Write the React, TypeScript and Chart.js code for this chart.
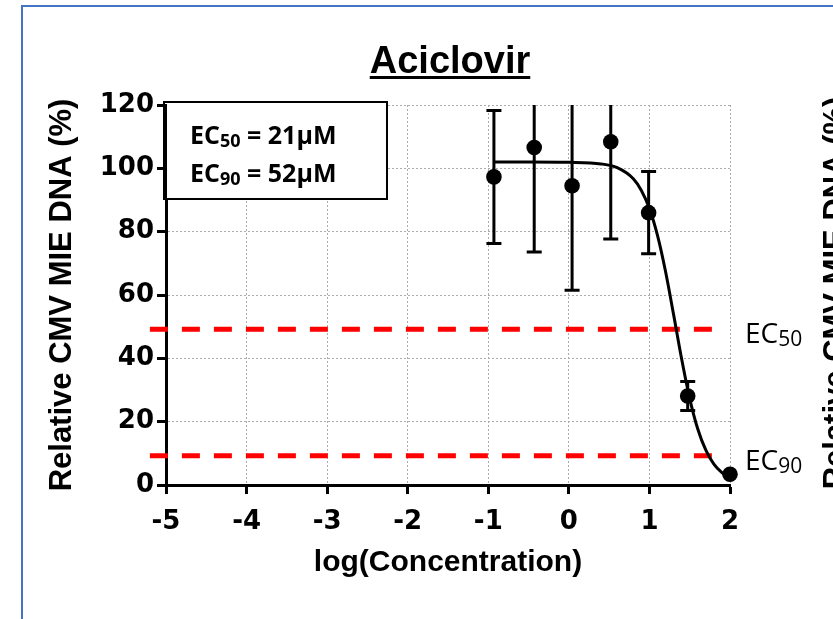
import React, { useEffect, useRef } from 'react';
import { Chart, registerables } from 'chart.js';

Chart.register(...registerables);

// ---- data ----
const chartTitle = 'Aciclovir';
const xAxisTitle = 'log(Concentration)';
const yAxisTitle = 'Relative CMV MIE DNA (%)';

const logConc = [-0.93, -0.43, 0.04, 0.52, 0.99, 1.475, 2.0];
const relDNA = [97.3, 106.6, 94.5, 108.4, 86.0, 28.1, 3.4];
const errDNA = [21, 33, 33, 30.7, 13, 4.6, 0];

const fitX = [-0.93, -0.5, 0, 0.4, 0.6, 0.8, 0.9, 1.0, 1.1, 1.2, 1.3, 1.4, 1.5, 1.6, 1.7, 1.8, 1.9, 2.0];
const fitY = [102, 102, 101.9, 101.4, 100.2, 96.7, 93.0, 87.3, 78.8, 67.4, 53.8, 39.8, 27.3, 17.7, 11.0, 6.6, 3.9, 2.3];

const ecLevels = [49.2, 9.25];
const ecLineX = [-5.2, 1.81];
const ecSubs = ['50', '90'];
const ecValues = ['21µM', '52µM'];

const xMin = -5;
const xMax = 2;
const yMin = 0;
const yMax = 120;
const yStep = 20;

const W = 833;
const H = 619;

const overlayPlugin = {
  id: 'overlay',
  afterDatasetsDraw(chart: any) {
    const { ctx, chartArea, scales } = chart;
    const xs = scales.x;
    const ys = scales.y;
    ctx.save();
    ctx.beginPath();
    ctx.rect(chartArea.left - 20, chartArea.top, chartArea.right - chartArea.left + 40, chartArea.bottom - chartArea.top);
    ctx.clip();
    ctx.strokeStyle = '#000';
    ctx.lineWidth = 3;
    for (let i = 0; i < logConc.length; i++) {
      if (!errDNA[i]) continue;
      const px = xs.getPixelForValue(logConc[i]);
      const yt = ys.getPixelForValue(relDNA[i] + errDNA[i]);
      const yb = ys.getPixelForValue(relDNA[i] - errDNA[i]);
      ctx.beginPath();
      ctx.moveTo(px, yt);
      ctx.lineTo(px, yb);
      ctx.moveTo(px - 7.5, yt);
      ctx.lineTo(px + 7.5, yt);
      ctx.moveTo(px - 7.5, yb);
      ctx.lineTo(px + 7.5, yb);
      ctx.stroke();
    }
    ctx.restore();
  },
  afterDraw(chart: any) {
    const { ctx, scales } = chart;
    const ys = scales.y;
    const xs = scales.x;
    const drawSeg = (x: number, y: number, segs: { t: string; f: string; dy?: number }[]) => {
      let cx = x;
      for (const s of segs) {
        ctx.font = s.f;
        ctx.fillText(s.t, cx, y + (s.dy || 0));
        cx += ctx.measureText(s.t).width;
      }
    };
    ctx.save();
    ctx.fillStyle = '#000';
    ctx.textBaseline = 'alphabetic';

    // title with underline
    ctx.font = 'bold 38px "Liberation Sans", Arial, sans-serif';
    ctx.textAlign = 'center';
    const tw = ctx.measureText(chartTitle).width;
    const tx = 450;
    ctx.fillText(chartTitle, tx, 73);
    ctx.fillRect(tx - tw / 2, 76, tw, 3);

    // legend box
    ctx.textAlign = 'left';
    ctx.fillStyle = '#fff';
    ctx.fillRect(167, 103, 219, 95);
    ctx.strokeStyle = '#000';
    ctx.lineWidth = 2;
    ctx.strokeRect(164, 102, 223, 97);
    ctx.fillStyle = '#000';
    const bf = 'bold 25px "Open Sans", sans-serif';
    const sf = 'bold 18px "Open Sans", sans-serif';
    drawSeg(190, 144, [
      { t: 'EC', f: bf },
      { t: ecSubs[0], f: sf, dy: 3 },
      { t: ' = ' + ecValues[0], f: bf },
    ]);
    drawSeg(190, 182, [
      { t: 'EC', f: bf },
      { t: ecSubs[1], f: sf, dy: 3 },
      { t: ' = ' + ecValues[1], f: bf },
    ]);

    // EC labels at right
    const lf = '28px "Open Sans", sans-serif';
    const lsf = '21px "Open Sans", sans-serif';
    for (let i = 0; i < ecLevels.length; i++) {
      const py = ys.getPixelForValue(ecLevels[i]);
      drawSeg(xs.right + 15, py + 14, [
        { t: 'EC', f: lf },
        { t: ecSubs[i], f: lsf, dy: 3 },
      ]);
    }

    // partially visible axis title of neighbouring panel
    ctx.save();
    ctx.translate(836, 293);
    ctx.rotate(-Math.PI / 2);
    ctx.textAlign = 'center';
    ctx.textBaseline = 'middle';
    ctx.font = 'bold 31px "Liberation Sans", Arial, sans-serif';
    ctx.fillText(yAxisTitle, 0, 0);
    ctx.restore();

    ctx.restore();
  },
};

export default function App() {
  const ref = useRef<HTMLCanvasElement | null>(null);
  useEffect(() => {
    const canvas = ref.current;
    if (!canvas) return;
    const gridColor = (c: any) =>
      c.tick && c.scale && ((c.scale.axis === 'x' && c.tick.value === xMin) || (c.scale.axis === 'y' && c.tick.value === yMin))
        ? 'rgba(0,0,0,0)'
        : '#ababab';
    const tickFont = { family: '"DejaVu Sans", sans-serif', size: 26, weight: 'bold' as const };
    const chart = new Chart(canvas, {
      type: 'scatter',
      data: {
        datasets: [
          {
            label: 'points',
            data: logConc.map((x, i) => ({ x, y: relDNA[i] })),
            backgroundColor: '#000',
            borderColor: '#000',
            borderWidth: 0,
            pointRadius: 7.8,
            showLine: false,
            clip: false as any,
            order: 1,
          },
          {
            label: 'fit',
            data: fitX.map((x, i) => ({ x, y: fitY[i] })),
            borderColor: '#000',
            borderWidth: 3,
            pointRadius: 0,
            showLine: true,
            cubicInterpolationMode: 'monotone',
            clip: false as any,
            order: 2,
          },
          ...ecLevels.map((lv) => ({
            label: 'ec',
            data: ecLineX.map((x) => ({ x, y: lv })),
            borderColor: '#ff0000',
            borderWidth: 5,
            borderDash: [18, 14],
            pointRadius: 0,
            showLine: true,
            clip: false as any,
            order: 3,
          })),
        ] as any,
      },
      options: {
        animation: false,
        responsive: false,
        devicePixelRatio: 1,
        layout: { padding: { left: 0, top: 105, right: 103, bottom: 0 } },
        plugins: { legend: { display: false }, tooltip: { enabled: false }, title: { display: false } },
        scales: {
          x: {
            type: 'linear',
            min: xMin,
            max: xMax,
            afterFit: (s: any) => {
              s.height = H - 485;
            },
            ticks: { stepSize: 1, color: '#000', font: tickFont, padding: 13 },
            grid: { color: gridColor, lineWidth: 1, tickColor: '#000', tickWidth: 3, tickLength: 9 },
            border: { color: '#000', width: 3, dash: [2, 2] },
            title: {
              display: true,
              text: xAxisTitle,
              color: '#000',
              font: { family: '"Liberation Sans", Arial, sans-serif', size: 30, weight: 'bold' },
              padding: { top: 0, bottom: 38 },
            },
          },
          y: {
            type: 'linear',
            min: yMin,
            max: yMax,
            afterFit: (s: any) => {
              s.width = 166;
            },
            ticks: { stepSize: yStep, color: '#000', font: tickFont, padding: 3 },
            grid: { color: gridColor, lineWidth: 1, tickColor: '#000', tickWidth: 3, tickLength: 9 },
            border: { color: '#000', width: 3, dash: [2, 2] },
            title: {
              display: true,
              text: yAxisTitle,
              color: '#000',
              font: { family: '"Liberation Sans", Arial, sans-serif', size: 31, weight: 'bold' },
              padding: { top: 44, bottom: 0 },
            },
          },
        },
      } as any,
      plugins: [overlayPlugin],
    });
    return () => chart.destroy();
  }, []);

  return (
    <div style={{ position: 'fixed', left: 0, top: 0, width: W, height: H, background: '#fff', overflow: 'hidden' }}>
      <div
        style={{
          position: 'absolute',
          left: 21,
          top: 5,
          width: W,
          height: H,
          borderLeft: '2px solid #4472C4',
          borderTop: '2px solid #4472C4',
        }}
      />
      <canvas ref={ref} width={W} height={H} style={{ position: 'absolute', left: 0, top: 0, width: W, height: H }} />
    </div>
  );
}
